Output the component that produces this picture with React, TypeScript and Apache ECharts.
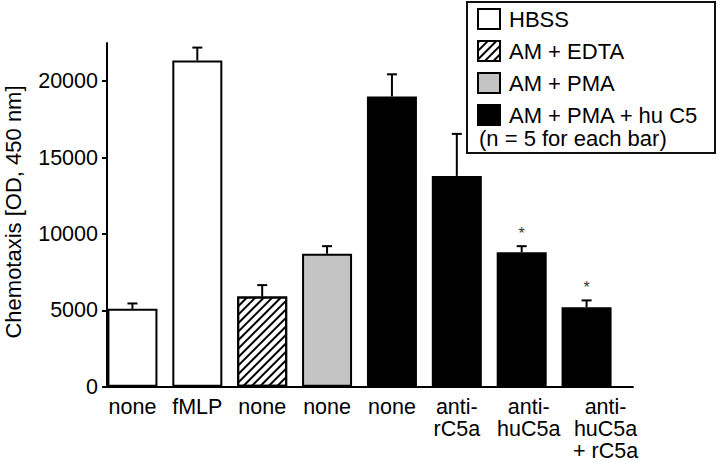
import React, { useEffect, useRef } from "react";
import * as echarts from "echarts";

const categories = ["none", "fMLP", "none", "none", "none", "anti-\nrC5a", "anti-\nhuC5a", "anti-\nhuC5a\n+ rC5a"];
const groupNames = ["HBSS", "AM + EDTA", "AM + PMA", "AM + PMA + hu C5"];
const barGroup = [0, 0, 1, 2, 3, 3, 3, 3];
const means = [5100, 21350, 5900, 8700, 19000, 13800, 8800, 5200];
const errors = [350, 850, 750, 500, 1450, 2750, 400, 450];
const marks = ["", "", "", "", "", "", "*", "*"];
const yTicks = [0, 5000, 10000, 15000, 20000];
const noteText = "(n = 5 for each bar)";
const yName = "Chemotaxis [OD, 450 nm]";

const FONT = "'Liberation Sans', Arial, sans-serif";
const Y_MAX = 22500;
const labelShift = [0, 0, 0, 0, 0, 0, 14, 38];

const groupStyles: any[] = [
  { color: "#ffffff" },
  {
    color: "#ffffff",
    decal: {
      symbol: "rect",
      symbolSize: 1,
      dashArrayX: [1, 0],
      dashArrayY: [2, 4],
      rotation: -Math.PI / 4,
      color: "#000000",
    },
  },
  { color: "#c4c4c4" },
  { color: "#000000" },
];

export default function App() {
  const ref = useRef<HTMLDivElement>(null);
  useEffect(() => {
    document.body.style.margin = "0";
    if (!ref.current) return;
    const chart = echarts.init(ref.current, null, { renderer: "svg" });

    const barSeries = groupNames.map((name, g) => ({
      name,
      type: "bar",
      xAxisIndex: 0,
      yAxisIndex: 0,
      barWidth: 50,
      barGap: "-100%",
      data: means.map((v, i) => (barGroup[i] === g ? v : "-")),
      itemStyle: { ...groupStyles[g], borderColor: "#000", borderWidth: 2 },
      z: 2,
    }));

    const errSeries = {
      type: "custom",
      xAxisIndex: 0,
      yAxisIndex: 0,
      z: 3,
      data: means.map((m, i) => [i, m, errors[i]]),
      encode: { x: 0, y: 1 },
      renderItem: (params: any, api: any) => {
        const x = api.value(0);
        const m = api.value(1);
        const e = api.value(2);
        const p0 = api.coord([x, m]);
        const p1 = api.coord([x, m + e]);
        const children: any[] = [
          {
            type: "line",
            shape: { x1: p0[0], y1: p0[1], x2: p1[0], y2: p1[1] },
            style: { stroke: "#000", lineWidth: 2 },
          },
          {
            type: "line",
            shape: { x1: p1[0] - 5, y1: p1[1], x2: p1[0] + 5, y2: p1[1] },
            style: { stroke: "#000", lineWidth: 2 },
          },
        ];
        const mk = marks[params.dataIndex];
        if (mk) {
          children.push({
            type: "text",
            x: p1[0],
            y: p1[1] - 13,
            style: {
              text: mk,
              fontSize: 16,
              fontFamily: FONT,
              fill: "#333",
              align: "center",
              verticalAlign: "middle",
            },
          });
        }
        return { type: "group", children };
      },
    };

    chart.setOption({
      animation: false,
      backgroundColor: "#ffffff",
      textStyle: { fontFamily: FONT },
      grid: [
        { left: 100, right: 101, top: 43, bottom: 75.3, outerBoundsMode: "none", containLabel: false },
        { left: 107, right: 87, top: 43, bottom: 75.3, outerBoundsMode: "none", containLabel: false },
      ],
      xAxis: [
        {
          type: "category",
          gridIndex: 0,
          data: categories.map((c, i) => ({
            value: c,
            textStyle: labelShift[i] ? { padding: [0, 0, 0, labelShift[i]] } : {},
          })),
          axisLine: { show: false },
          axisTick: { show: false },
          axisLabel: {
            interval: 0,
            fontSize: 21.5,
            lineHeight: 22,
            color: "#000",
            fontFamily: FONT,
            margin: 9,
          },
        },
        {
          type: "value",
          gridIndex: 1,
          min: 0,
          max: 1,
          axisLine: { show: true, lineStyle: { color: "#000", width: 2 } },
          axisTick: { show: false },
          axisLabel: { show: false },
          splitLine: { show: false },
        },
      ],
      yAxis: [
        {
          type: "value",
          gridIndex: 0,
          min: 0,
          max: Y_MAX,
          show: false,
          splitLine: { show: false },
        },
        {
          type: "value",
          gridIndex: 1,
          min: 0,
          max: Y_MAX,
          interval: 5000,
          axisLine: { show: true, lineStyle: { color: "#000", width: 2 } },
          axisTick: {
            show: true,
            length: 5,
            lineStyle: { color: "#000", width: 2 },
            customValues: yTicks,
          },
          axisLabel: {
            fontSize: 21.5,
            color: "#000",
            fontFamily: FONT,
            margin: 9,
            customValues: yTicks,
            formatter: (v: number) => String(v),
          },
          splitLine: { show: false },
        },
      ],
      legend: {
        orient: "vertical",
        left: 477,
        top: 8,
        padding: 0,
        itemWidth: 22,
        itemHeight: 20,
        itemGap: 10,
        icon: "rect",
        selectedMode: false,
        data: groupNames,
        textStyle: { fontSize: 22, color: "#000", fontFamily: FONT, padding: [0, 0, 0, 4] },
      },
      graphic: [
        {
          type: "text",
          x: 13,
          y: 212,
          rotation: Math.PI / 2,
          style: {
            text: yName,
            fontSize: 22,
            fontFamily: FONT,
            fill: "#000",
            align: "center",
            verticalAlign: "middle",
          },
        },
        {
          type: "rect",
          shape: { x: 467, y: 2, width: 248, height: 151 },
          style: { fill: "none", stroke: "#111", lineWidth: 2 },
          z: 10,
        },
        {
          type: "text",
          x: 479,
          y: 138,
          style: {
            text: noteText,
            fontSize: 22,
            fontFamily: FONT,
            fill: "#000",
            verticalAlign: "middle",
          },
          z: 10,
        },
      ],
      series: [...barSeries, errSeries],
    });
    return () => chart.dispose();
  }, []);
  return <div ref={ref} style={{ width: 720, height: 462 }} />;
}
